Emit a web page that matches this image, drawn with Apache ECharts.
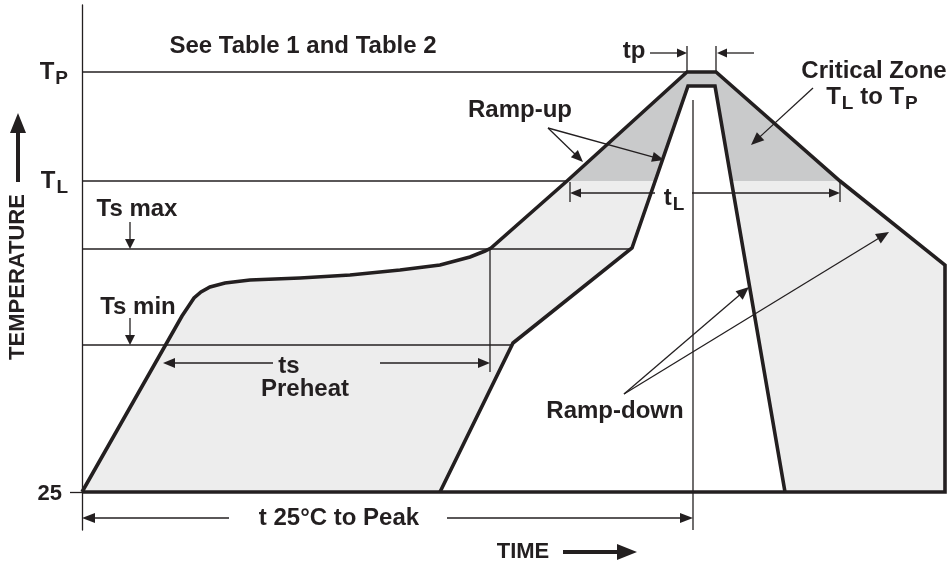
<!DOCTYPE html>
<html>
<head>
<meta charset="utf-8">
<script src="https://cdn.jsdelivr.net/npm/echarts@6/dist/echarts.min.js"></script>
<style>
html,body{margin:0;padding:0;background:#fff}
#main{width:948px;height:564px}
</style>
</head>
<body>
<div id="main"></div>
<script>
// schematic units: time from the temperature axis, temperature with 25 at the baseline
const T25 = 25, TS_MIN = 172, TS_MAX = 268, T_L = 336, T_P = 445;

// outer profile (slowest allowed), closed along the baseline
const outerTime = [0, 100, 106, 112, 119, 128, 143, 168, 193, 218, 268, 318, 358, 388, 403, 409, 485, 605, 634, 758, 863, 863, 0];
const outerTemp = [25, 201, 210, 219, 225, 230, 234, 237, 238, 239, 242, 247, 252, 260, 266, 269, 336, 445, 445, 336, 252, 25, 25];

// inner profile (fastest allowed)
const innerTime = [358, 431, 550, 606, 633, 703];
const innerTemp = [25, 174, 269, 431, 431, 25];

// guide lines
const guideTime = [408, 611];
const guideFrom = [269, 417];
const guideTo = [145, -13];

const INK = '#231f20';
const FONT = '"Liberation Sans", Arial, sans-serif';

function zip(ts, vs) { return ts.map((t, i) => [t, vs[i]]); }

// first time a polyline reaches a temperature level
function crossAt(ts, vs, level) {
  for (let i = 1; i < ts.length; i++) {
    const a = vs[i - 1], b = vs[i];
    if ((a - level) * (b - level) <= 0 && a !== b) {
      return ts[i - 1] + (level - a) / (b - a) * (ts[i] - ts[i - 1]);
    }
  }
  return ts[ts.length - 1];
}

// band between the two profiles
const band = zip(outerTime, outerTemp).slice(0, -1).concat(zip(innerTime, innerTemp).reverse());

// keep the part of a polygon at or above a level
function clipAbove(poly, level) {
  const out = [];
  for (let i = 0; i < poly.length; i++) {
    const p = poly[i], q = poly[(i + 1) % poly.length];
    const pin = p[1] >= level, qin = q[1] >= level;
    if (pin) out.push(p);
    if (pin !== qin) {
      const k = (level - p[1]) / (q[1] - p[1]);
      out.push([p[0] + k * (q[0] - p[0]), level]);
    }
  }
  return out;
}
const critical = clipAbove(band, T_L);

function polySeries(points, fill, z) {
  return {
    type: 'custom', z: z, silent: true, clip: false,
    data: [[0, T25]],
    renderItem: function (params, api) {
      return {
        type: 'polygon',
        shape: { points: points.map(p => api.coord(p)) },
        style: { fill: fill }
      };
    }
  };
}

function lineSeries(data, width, z) {
  return {
    type: 'line', data: data, z: z, clip: false, symbol: 'none', silent: true,
    lineStyle: { color: INK, width: width, join: 'miter' }
  };
}

const levels = [
  [T_P, crossAt(outerTime, outerTemp, T_P)],
  [T_L, crossAt(outerTime, outerTemp, T_L)],
  [TS_MAX, crossAt(innerTime, innerTemp, TS_MAX)],
  [TS_MIN, crossAt(innerTime, innerTemp, TS_MIN)]
];

const series = [
  polySeries(band, '#ededed', 1),
  polySeries(critical, '#c9cacb', 2)
];
levels.forEach(l => series.push(lineSeries([[0, l[0]], [l[1], l[0]]], 1.3, 3)));
guideTime.forEach((t, i) => series.push(lineSeries([[t, guideFrom[i]], [t, guideTo[i]]], 1.3, 3)));
series.push(lineSeries(zip(outerTime, outerTemp), 3.6, 5));
series.push(lineSeries(zip(innerTime, innerTemp), 3.6, 5));

// annotation arrows, in pixels
function arrow(x1, y1, x2, y2, len, half, w) {
  len = len || 11; half = half || 4.5; w = w || 1.3;
  const a = Math.atan2(y2 - y1, x2 - x1);
  const c = Math.cos(a), s = Math.sin(a);
  const bx = x2 - len * c, by = y2 - len * s;
  return [
    { type: 'line', z: 20, silent: true, shape: { x1: x1, y1: y1, x2: bx + c, y2: by + s }, style: { stroke: INK, lineWidth: w } },
    { type: 'polygon', z: 20, silent: true, shape: { points: [[x2, y2], [bx - half * s, by + half * c], [bx + half * s, by - half * c]] }, style: { fill: INK } }
  ];
}
function seg(x1, y1, x2, y2, w) {
  return { type: 'line', z: 20, silent: true, shape: { x1: x1, y1: y1, x2: x2, y2: y2 }, style: { stroke: INK, lineWidth: w || 1.3 } };
}
function label(text, x, y, size, extra) {
  size = size || 24;
  return Object.assign({
    type: 'text', x: x, y: y, z: 20, silent: true,
    style: {
      text: text, font: 'bold ' + size + 'px ' + FONT, fill: INK,
      align: 'center', verticalAlign: 'middle',
      rich: {
        t: { fontSize: 24, fontWeight: 'bold', fontFamily: FONT, fill: INK },
        s: { fontSize: 19, fontWeight: 'bold', fontFamily: FONT, fill: INK, padding: [14, 0, 0, 1] }
      }
    }
  }, extra || {});
}

const graphics = [].concat(
  label('See Table 1 and Table 2', 303, 46),
  label('tp', 634, 51),
  arrow(650, 53, 687, 53, 10, 4.5),
  arrow(754, 53, 717, 53, 10, 4.5),
  seg(687, 46, 687, 72), seg(716, 46, 716, 72),
  label('Ramp-up', 520, 110),
  arrow(548, 128, 583, 162, 12, 5),
  arrow(548, 128, 664, 160, 12, 5),
  label('Critical Zone', 874, 71),
  label('{t|T}{s|L} to {t|T}{s|P}', 872, 97),
  arrow(813, 88, 751, 145, 13, 5.5),
  arrow(655, 193, 570, 193, 11, 4.5),
  arrow(692, 193, 840, 193, 11, 4.5),
  seg(570, 182, 570, 202), seg(840, 182, 840, 202),
  label('t{s|L}', 674, 198),
  label('Ts max', 137, 209),
  arrow(130, 222, 130, 249, 10, 5),
  label('Ts min', 138, 307),
  arrow(130, 318, 130, 345, 10, 5),
  label('ts', 289, 366),
  label('Preheat', 305, 389),
  arrow(273, 363, 163, 363, 12, 5),
  arrow(380, 363, 490, 363, 12, 5),
  label('Ramp-down', 615, 411),
  arrow(624, 394, 749, 287, 13, 5.5),
  arrow(624, 394, 889, 232, 13, 5.5),
  label('t 25°C to Peak', 339, 518),
  arrow(229, 518, 82, 518, 13, 5),
  arrow(447, 518, 693, 518, 13, 5),
  label('TIME', 523, 552, 22),
  arrow(563, 552, 637, 552, 20, 8, 4),
  label('TEMPERATURE', 18, 277, 22, { rotation: Math.PI / 2 }),
  arrow(18, 182, 18, 113, 20, 8, 4)
);

const chart = echarts.init(document.getElementById('main'), null, { renderer: 'canvas' });
chart.setOption({
  animation: false,
  backgroundColor: '#fff',
  grid: { left: 82, right: 3, top: 5, bottom: 34 },
  xAxis: { type: 'value', min: 0, max: 863, show: false },
  yAxis: {
    type: 'value', min: -13, max: 512,
    splitLine: { show: false },
    axisLine: { show: true, lineStyle: { color: INK, width: 1.3 } },
    axisTick: { show: true, customValues: [T25], length: 12, lineStyle: { color: INK, width: 1.3 } },
    axisLabel: {
      customValues: [T25, T_L, T_P],
      margin: 14,
      color: INK, fontWeight: 'bold', fontFamily: FONT, fontSize: 22,
      formatter: function (v) {
        if (v === T_P) return '{t|T}{s|P}';
        if (v === T_L) return '{t|T}{s|L}';
        return '{n|25}';
      },
      rich: {
        t: { fontSize: 24, fontWeight: 'bold', fontFamily: FONT, color: INK },
        s: { fontSize: 19, fontWeight: 'bold', fontFamily: FONT, color: INK, padding: [14, 0, 0, 1] },
        n: { fontSize: 22, fontWeight: 'bold', fontFamily: FONT, color: INK, padding: [4, 6, 0, 0] }
      }
    }
  },
  series: series,
  graphic: graphics
});
</script>
</body>
</html>
